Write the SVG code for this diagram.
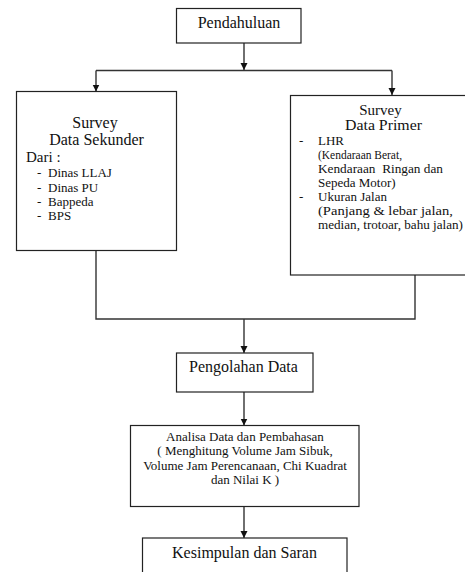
<svg xmlns="http://www.w3.org/2000/svg" width="465" height="572" viewBox="0 0 465 572" font-family="'Liberation Serif', 'DejaVu Serif', serif">
<style>
.box{fill:#fff;stroke:#222;stroke-width:1.2}
.ln{fill:none;stroke:#333;stroke-width:1.4}
text{font-family:'Liberation Serif','DejaVu Serif',serif;fill:#111}
.t16{font-size:16px}
.t15{font-size:15px}
.t13{font-size:13px}
.c{text-anchor:middle}
</style>
<defs>
<marker id="ah" markerWidth="8" markerHeight="8" refX="7" refY="4" orient="auto" markerUnits="userSpaceOnUse">
<path d="M0,0.5 L7,4 L0,7.5 z" fill="#111"/>
</marker>
</defs>
<rect width="465" height="572" fill="#fff"/>
<g id="connectors">
<path class="ln" d="M244,43 V70" marker-end="url(#ah)"/>
<path class="ln" d="M96,70.5 H392"/>
<path class="ln" d="M96,70.5 V91.5" marker-end="url(#ah)"/>
<path class="ln" d="M392,70.5 V95" marker-end="url(#ah)"/>
<path class="ln" d="M96,250.5 V319 H415 V275"/>
<path class="ln" d="M244,319 V353" marker-end="url(#ah)"/>
<path class="ln" d="M244,392 V425.5" marker-end="url(#ah)"/>
<path class="ln" d="M244,506.5 V538" marker-end="url(#ah)"/>
</g>
<g id="pendahuluan">
<rect class="box" x="176.5" y="8.5" width="124.5" height="34.5"/>
<text class="t16 c" x="239" y="28">Pendahuluan</text>
</g>
<g id="sekunder">
<rect class="box" x="16.5" y="91.5" width="160" height="159"/>
<text class="t16 c" x="95" y="128">Survey</text>
<text class="t16 c" x="96.5" y="145">Data Sekunder</text>
<text class="t15" x="26" y="162">Dari :</text>
<text class="t13" x="37" y="177">-</text><text class="t13" x="48" y="177">Dinas LLAJ</text>
<text class="t13" x="37" y="192">-</text><text class="t13" x="48" y="192">Dinas PU</text>
<text class="t13" x="37" y="206">-</text><text class="t13" x="48" y="206">Bappeda</text>
<text class="t13" x="37" y="220">-</text><text class="t13" x="48" y="220">BPS</text>
</g>
<g id="primer">
<rect class="box" x="290.5" y="95.5" width="200" height="179.5"/>
<text class="t15 c" x="380.5" y="115">Survey</text>
<text class="t15 c" x="383.5" y="130" textLength="77" lengthAdjust="spacingAndGlyphs">Data Primer</text>
<text class="t13" x="299" y="145">-</text><text class="t13" x="318" y="145">LHR</text>
<text class="t13" x="318" y="159" textLength="84" lengthAdjust="spacingAndGlyphs">(Kendaraan Berat,</text>
<text class="t13" x="318" y="173" textLength="125" lengthAdjust="spacingAndGlyphs" xml:space="preserve">Kendaraan  Ringan dan</text>
<text class="t13" x="318" y="187">Sepeda Motor)</text>
<text class="t13" x="299" y="201">-</text><text class="t13" x="318" y="201">Ukuran Jalan</text>
<text class="t13" x="318" y="215" textLength="135" lengthAdjust="spacingAndGlyphs">(Panjang &amp; lebar jalan,</text>
<text class="t13" x="318" y="229" textLength="145" lengthAdjust="spacingAndGlyphs">median, trotoar, bahu jalan)</text>
</g>
<g id="pengolahan">
<rect class="box" x="176.5" y="353" width="136.5" height="39"/>
<text class="t16 c" x="243.5" y="372">Pengolahan Data</text>
</g>
<g id="analisa">
<rect class="box" x="130.5" y="425.5" width="228.5" height="81"/>
<text class="t13 c" x="245" y="441">Analisa Data dan Pembahasan</text>
<text class="t13 c" x="245" y="455">( Menghitung Volume Jam Sibuk,</text>
<text class="t13 c" x="245" y="470">Volume Jam Perencanaan, Chi Kuadrat</text>
<text class="t13 c" x="245" y="484">dan Nilai K )</text>
</g>
<g id="kesimpulan">
<rect class="box" x="142.5" y="538" width="204.5" height="50"/>
<text class="t16 c" x="244.5" y="558">Kesimpulan dan Saran</text>
</g>
</svg>
